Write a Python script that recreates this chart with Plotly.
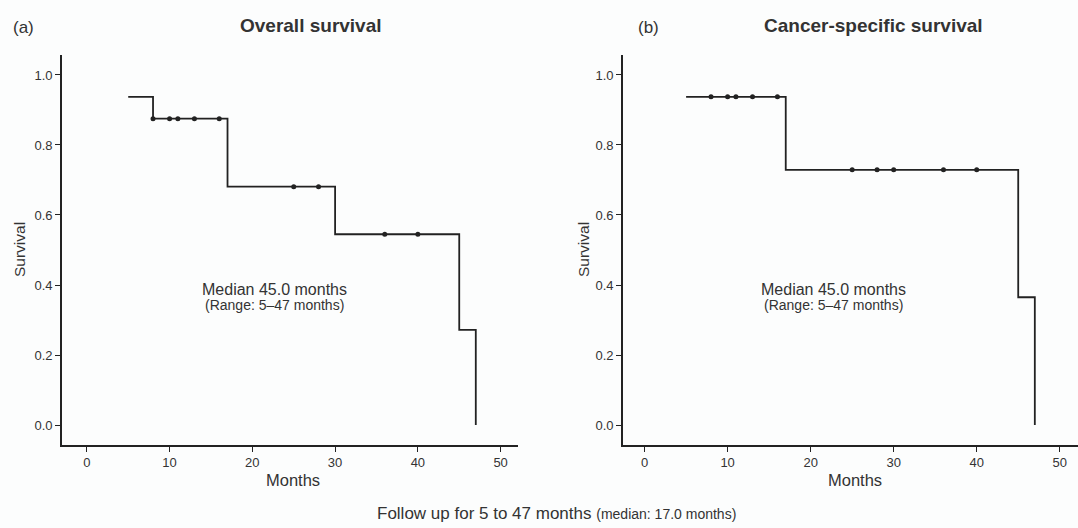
import plotly.graph_objects as go

# Overall survival (a)
os_time = [5, 8, 17, 30, 45, 47]
os_surv = [0.9375, 0.875, 0.681, 0.545, 0.272, 0.0]
os_cens_time = [8, 10, 11, 13, 16, 25, 28, 36, 40]
os_cens_surv = [0.875, 0.875, 0.875, 0.875, 0.875, 0.681, 0.681, 0.545, 0.545]

# Cancer-specific survival (b)
cs_time = [5, 17, 45, 47]
cs_surv = [0.9375, 0.729, 0.365, 0.0]
cs_cens_time = [8, 10, 11, 13, 16, 25, 28, 30, 36, 40]
cs_cens_surv = [0.9375, 0.9375, 0.9375, 0.9375, 0.9375, 0.729, 0.729, 0.729, 0.729, 0.729]

x_ticks = [0, 10, 20, 30, 40, 50]
y_ticks = [0.0, 0.2, 0.4, 0.6, 0.8, 1.0]
y_tick_text = ["0.0", "0.2", "0.4", "0.6", "0.8", "1.0"]

W, H = 1078, 528
FONT = "Liberation Sans, Arial, sans-serif"
INK = "#222222"
TXT = "#333333"

fig = go.Figure()

def add_curve(t, s, ct, cs, xa, ya):
    fig.add_trace(go.Scatter(x=t, y=s, mode="lines", line=dict(color=INK, width=1.8, shape="hv"),
                             xaxis=xa, yaxis=ya, showlegend=False, hoverinfo="skip"))
    fig.add_trace(go.Scatter(x=ct, y=cs, mode="markers",
                             marker=dict(symbol="circle", size=5, color=INK),
                             xaxis=xa, yaxis=ya, showlegend=False, hoverinfo="skip"))

add_curve(os_time, os_surv, os_cens_time, os_cens_surv, "x", "y")
add_curve(cs_time, cs_surv, cs_cens_time, cs_cens_surv, "x2", "y2")

axis_common = dict(showline=True, linecolor=INK, linewidth=1.6, ticks="outside", ticklen=5,
                   tickwidth=1.2, tickcolor=INK, showgrid=False, zeroline=False,
                   tickfont=dict(family=FONT, size=13, color=TXT))

ydom = [1 - 445 / H, 1 - 55 / H]
fig.update_layout(
    width=W, height=H,
    margin=dict(l=0, r=0, t=0, b=0),
    paper_bgcolor="#fcfdfd", plot_bgcolor="#fcfdfd",
    font=dict(family=FONT, color=INK),
    xaxis=dict(domain=[62 / W, 518 / W], range=[-3.0, 52.1], tickvals=x_ticks, anchor="y", **axis_common),
    yaxis=dict(domain=ydom, range=[-0.057, 1.057], tickvals=y_ticks, ticktext=y_tick_text,
               anchor="x", **axis_common),
    xaxis2=dict(domain=[623 / W, 1.0], range=[-2.6, 52.2], tickvals=x_ticks, anchor="y2", **axis_common),
    yaxis2=dict(domain=ydom, range=[-0.057, 1.057], tickvals=y_ticks, ticktext=y_tick_text,
                anchor="x2", **axis_common),
)

def txt(text, px, py, size, angle=0, anchor="center"):
    return dict(text=text, x=px / W, y=1 - py / H, xref="paper", yref="paper",
                xanchor=anchor, yanchor="middle", showarrow=False, textangle=angle,
                font=dict(size=size, family=FONT, color=TXT))

ann = [
    txt("(a)", 23, 27, 17),
    txt("<b>Overall survival</b>", 311, 25, 19),
    txt("(b)", 648, 27, 17),
    txt("<b>Cancer-specific survival</b>", 873, 25, 19),
    txt("Survival", 19, 250, 15.5, angle=-90),
    txt("Survival", 583, 250, 15.5, angle=-90),
    txt("Months", 293, 480, 16.5),
    txt("Months", 855, 480, 16.5),
]
for cx in (274, 833):
    ann.append(txt("Median 45.0 months", cx, 289, 16))
    ann.append(txt("(Range: 5\u201347 months)", cx, 305, 14))

ann.append(txt('Follow up for 5 to 47 months <span style="font-size:14px">(median: 17.0 months)</span>',
               556, 513, 17))

fig.update_layout(annotations=ann)

fig.write_html("out.html", config={"displayModeBar": False},
               post_script="document.body.style.margin='0px';document.body.style.background='#fcfdfd';")
